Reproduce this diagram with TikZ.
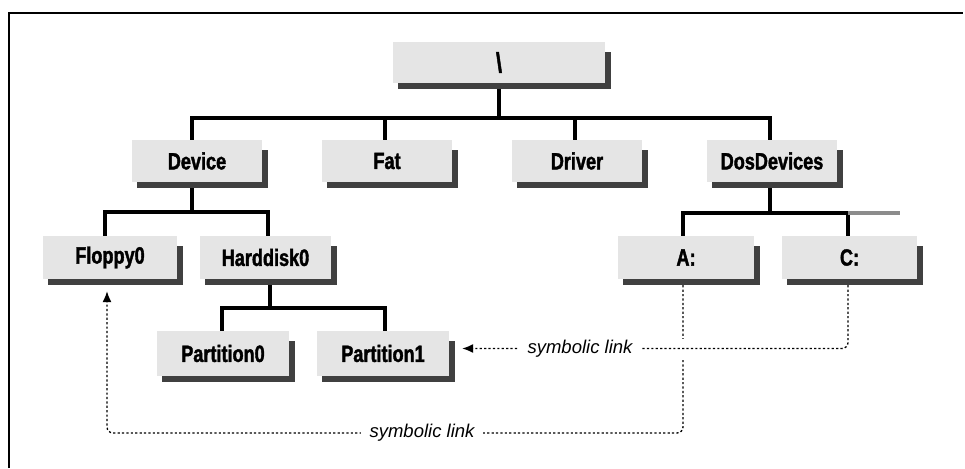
\documentclass[tikz,border=0pt]{standalone}
\usepackage{fontspec}
\setmainfont{Liberation Sans}[FakeStretch=0.77, BoldFeatures={FakeBold=1.6}]
\newfontfamily\lblfont{Liberation Sans}
\usetikzlibrary{arrows.meta,calc}
\definecolor{boxfill}{gray}{0.9}
\definecolor{shadowc}{gray}{0.25}
\begin{document}
\begin{tikzpicture}[x=1pt,y=-1pt,
  box/.style={fill=boxfill, inner sep=0pt, anchor=center,
    font=\fontsize{23.5}{26}\selectfont\bfseries},
  tree/.style={line width=3.6pt, line join=miter},
  link/.style={line width=1.3pt, dash pattern=on 2.2pt off 2.2pt},
  tip/.style={-{Latex[length=11pt,width=9pt]}},
  lbl/.style={fill=white, inner xsep=9pt, inner ysep=2pt,
    font=\lblfont\itshape\fontsize{18.5}{20}\selectfont}]
\useasboundingbox (0,0) rectangle (965,468);
% frame
\draw[line width=1.3pt] (9,468) -- (9,13) -- (963,13);
% boxes
\node[box, minimum width=212pt, minimum height=41pt,
  font=\fontsize{28}{30}\selectfont\bfseries] (root) at (499,62.5) {\textbackslash};
\node[box, minimum width=130pt, minimum height=42pt] (dev)  at (197,161) {Device};
\node[box, minimum width=130pt, minimum height=42pt] (fat)  at (387,161) {Fat};
\node[box, minimum width=130pt, minimum height=42pt] (drv)  at (577,161) {Driver};
\node[box, minimum width=130pt, minimum height=42pt] (dos)  at (772,161) {DosDevices};
\node[box, minimum width=134pt, minimum height=43pt] (flop) at (110,257.5) {Floppy0};
\node[box, minimum width=131pt, minimum height=43pt] (hd)   at (265.5,257.5) {Harddisk0};
\node[box, minimum width=136pt, minimum height=43pt] (A)    at (686,257.5) {A:};
\node[box, minimum width=135pt, minimum height=43pt] (C)    at (849.5,257.5) {C:};
\node[box, minimum width=132pt, minimum height=45pt] (p0)   at (223,353.5) {Partition0};
\node[box, minimum width=132pt, minimum height=45pt] (p1)   at (383,353.5) {Partition1};
% bus levels
\coordinate (b1) at (0,118);
\coordinate (b2) at (0,212);
\coordinate (b2r) at (900,213);
\coordinate (b3) at (0,308);
% connector points
\coordinate (rootS) at (root.south);
\coordinate (devN) at ([xshift=-5pt]dev.north);
\coordinate (fatN) at ([xshift=-2pt]fat.north);
\coordinate (drvN) at ([xshift=-2pt]drv.north);
\coordinate (dosN) at ([xshift=-2pt]dos.north);
\coordinate (devS) at ([xshift=-5pt]dev.south);
\coordinate (dosS) at ([xshift=-2pt]dos.south);
\coordinate (flopN) at ([xshift=-5pt]flop.north);
\coordinate (hdN) at ([xshift=2.5pt]hd.north);
\coordinate (hdS) at ([xshift=4.5pt]hd.south);
\coordinate (AN) at ([xshift=-3pt]A.north);
\coordinate (CN) at ([xshift=-1.5pt]C.north);
\coordinate (p0N) at ([xshift=-1pt]p0.north);
\coordinate (p1N) at ([xshift=2pt]p1.north);
% tree connectors
\draw[tree] (rootS) -- (rootS |- b1);
\draw[tree] (devN) |- (dosN |- b1) -- (dosN);
\draw[tree] (fatN |- b1) -- (fatN);
\draw[tree] (drvN |- b1) -- (drvN);
\draw[tree] (devS) -- (devS |- b2);
\draw[tree] (flopN) |- (hdN |- b2) -- (hdN);
\draw[tree] (dosS) -- (dosS |- b2r);
\draw[tree] (AN) |- (CN |- b2r) -- (CN);
\draw[tree, black!45] (CN |- b2r) -- (b2r);
\draw[tree] (hdS) -- (hdS |- b3);
\draw[tree] (p0N) |- (p1N |- b3) -- (p1N);
% shadows
\foreach \n in {root,dev,fat,drv,dos,flop,hd,A,C,p0,p1} {
  \fill[shadowc] ($(\n.north east)+(0,10)$) rectangle ($(\n.south east)+(6,6)$);
  \fill[shadowc] ($(\n.south west)+(5,0)$) rectangle ($(\n.south east)+(6,6)$);
}
% symbolic links
\coordinate (As) at ([xshift=-3pt,yshift=-6pt]A.south);
\coordinate (Fs) at ([xshift=-3pt,yshift=-12pt]flop.south);
\coordinate (Cs) at ([xshift=-1.5pt,yshift=-6pt]C.south);
\coordinate (P1e) at ([xshift=13pt,yshift=5pt]p1.east);
\coordinate (y2) at (0,433);
\draw[link, tip, rounded corners=6pt] (As) -- (As |- y2) -| (Fs);
\fill[white] ($(As |- P1e)+(-3,-10)$) rectangle ($(As |- P1e)+(3,9)$);
\draw[link, tip, rounded corners=6pt] (Cs) -- (Cs |- P1e) -- (P1e);
\node[lbl] (l1) at (422,433) {symbolic link};
\node[lbl] (l2) at (580,348.5) {symbolic link};
\end{tikzpicture}
\end{document}
